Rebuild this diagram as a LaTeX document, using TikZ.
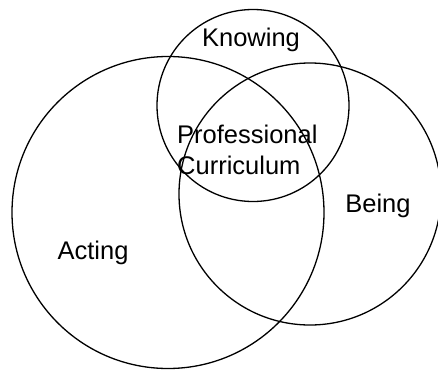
\documentclass[tikz,border=0pt]{standalone}
\usepackage{fontspec}
\setmainfont{Liberation Sans}
\usetikzlibrary{positioning}

\begin{document}
\begin{tikzpicture}[x=1pt, y=-1pt,
  set/.style={circle, draw, line width=1.3pt, inner sep=0pt},
  setname/.style={inner sep=0pt, font=\fontsize{25.5}{30.3}\selectfont}]
\useasboundingbox (0,0) rectangle (438,369);
% the three sets
\node[set, minimum size=312pt] (acting) at (168,212.5) {};
\node[set, minimum size=192pt] (knowing) at (253,105.5) {};
\node[set, minimum size=262pt] (being) at (310,194) {};
% their names
\node[setname, anchor=base] (knowingname) at (251,46.7) {Knowing};
\node[setname, anchor=base] (beingname) at (378,212) {Being};
\node[setname, anchor=base] (actingname) at (93,259) {Acting};
\node[setname, anchor=base west, align=left] (curriculum) at (177,174)
    {Professional\\Curriculum};
\end{tikzpicture}
\end{document}
